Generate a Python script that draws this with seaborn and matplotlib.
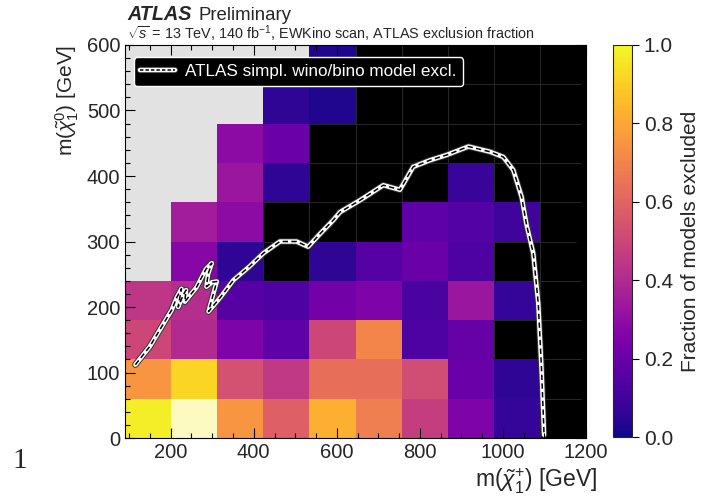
import numpy as np
import matplotlib
matplotlib.use("Agg")
import matplotlib.pyplot as plt
import seaborn as sns
from matplotlib.colors import ListedColormap, Normalize
from matplotlib.ticker import MultipleLocator
from matplotlib.lines import Line2D
from matplotlib.cm import ScalarMappable

# ---------------- data ----------------
chargino_edges = [90, 201, 312, 423, 534, 645, 756, 867, 978, 1089, 1200]
neutralino_edges = [0, 60, 120, 180, 240, 300, 360, 420, 480, 540, 600]
nan = np.nan
# fraction of models excluded, rows from m(chi0)=0-60 up to 540-600; nan = no exclusion (black)
frac_r0 = [0.97, 1.00, 0.75, 0.58, 0.82, 0.68, 0.47, 0.25, 0.07, nan]
frac_r1 = [0.75, 0.91, 0.53, 0.45, 0.63, 0.63, 0.52, 0.20, 0.06, nan]
frac_r2 = [0.50, 0.40, 0.25, 0.17, 0.50, 0.70, 0.13, 0.19, nan, nan]
frac_r3 = [0.44, 0.41, 0.15, 0.13, 0.22, 0.25, 0.12, 0.33, 0.07, nan]
frac_r4 = [nan, 0.27, 0.06, nan, 0.06, 0.15, 0.20, 0.13, nan, nan]
frac_r5 = [nan, 0.35, 0.29, nan, nan, nan, 0.17, 0.14, 0.09, nan]
frac_r6 = [nan, nan, 0.33, 0.06, nan, nan, nan, 0.08, nan, nan]
frac_r7 = [nan, nan, 0.29, 0.20, nan, nan, nan, nan, nan, nan]
frac_r8 = [nan, nan, nan, 0.06, 0.03, nan, nan, nan, nan, nan]
frac_r9 = [nan, nan, nan, nan, 0.03, nan, nan, nan, nan, nan]
# number of cells (from the left) in each row with no models (grey)
no_model_cols = [0, 0, 0, 0, 1, 1, 2, 2, 3, 4]

# ATLAS simplified wino/bino exclusion contour
contour_x = [115, 150, 202, 215, 226, 218, 230, 237, 234, 262, 285, 299, 290, 286,
             300, 311, 291, 320, 351, 390, 423, 463, 503, 531, 560, 592, 608, 656,
             712, 752, 784, 824, 864, 917, 969, 1001, 1025, 1045, 1057, 1073, 1085,
             1093, 1099]
contour_y = [112, 140, 195, 215, 228, 200, 218, 226, 208, 230, 258, 267, 250, 231,
             238, 239, 193, 215, 241, 262, 282, 300, 300, 292, 312, 333, 345, 363,
             386, 379, 414, 424, 432, 445, 437, 429, 409, 368, 325, 282, 206,
             104, 5]

# ---------------- figure ----------------
sns.set_style("ticks")
plt.rcParams["font.family"] = ["Liberation Sans", "DejaVu Sans"]
plt.rcParams["mathtext.fontset"] = "custom"
plt.rcParams["mathtext.rm"] = "Liberation Sans"
plt.rcParams["mathtext.it"] = "Liberation Sans:italic"
plt.rcParams["mathtext.bf"] = "Liberation Sans:bold"

fig = plt.figure(figsize=(7.11, 5.01), dpi=100)
ax = fig.add_axes([0.1758, 0.1257, 0.6484, 0.7845])
cax = fig.add_axes([0.8622, 0.1277, 0.0267, 0.7825])
ax.set_axisbelow(False)

frac = np.array([frac_r0, frac_r1, frac_r2, frac_r3, frac_r4,
                 frac_r5, frac_r6, frac_r7, frac_r8, frac_r9], dtype=float)
grey = np.zeros_like(frac)
for i, n in enumerate(no_model_cols):
    grey[i, :n] = 1
grey = np.where(grey == 1, 1.0, np.nan)
allcells = np.ones_like(frac)

X, Y = np.meshgrid(chargino_edges, neutralino_edges)
# black background grid (cells without exclusion), faint cell edges
ax.pcolormesh(X, Y, allcells, cmap=ListedColormap(["black"]),
              edgecolors="#262626", linewidth=0.6, shading="flat", zorder=0.5)
cmap = plt.get_cmap("plasma").with_extremes(over="#fcfac0")
ax.pcolormesh(X, Y, np.ma.masked_invalid(frac), cmap=cmap,
              norm=Normalize(0, 0.995), shading="flat", zorder=0.6)
ax.pcolormesh(X, Y, np.ma.masked_invalid(grey), cmap=ListedColormap(["#e2e2e2"]),
              shading="flat", zorder=0.7)

# contour line: dark edge, white body, black dashes
sns.lineplot(x=contour_x, y=contour_y, sort=False, estimator=None, ax=ax,
             color="#333333", lw=4.6, solid_capstyle="round", solid_joinstyle="round")
sns.lineplot(x=contour_x, y=contour_y, sort=False, estimator=None, ax=ax,
             color="white", lw=3.2, solid_capstyle="round", solid_joinstyle="round")
sns.lineplot(x=contour_x, y=contour_y, sort=False, estimator=None, ax=ax,
             color="black", lw=1.1, dashes=(3.5, 2.2))

ax.set_xlim(90, 1200)
ax.set_ylim(0, 600)
ax.xaxis.set_major_locator(MultipleLocator(200))
ax.xaxis.set_minor_locator(MultipleLocator(50))
ax.yaxis.set_major_locator(MultipleLocator(100))
ax.yaxis.set_minor_locator(MultipleLocator(20))
ax.tick_params(which="both", direction="in", top=True, right=True, bottom=True,
               left=True, labelsize=14.5, color="black")
ax.tick_params(which="major", length=7, width=0.8)
ax.tick_params(which="minor", length=3.5, width=0.8)
for s in ax.spines.values():
    s.set_linewidth(0.8)
    s.set_color("black")
    s.set_zorder(5)

ax.set_xlabel(r"m($\tilde{\chi}_1^{+}$) [GeV]", fontsize=16.5, labelpad=1)
ax.xaxis.set_label_coords(1.025, -0.072)
ax.xaxis.label.set_horizontalalignment("right")
ax.set_ylabel(r"m($\tilde{\chi}_1^{0}$) [GeV]", fontsize=15, loc="top", labelpad=4)

handle = (Line2D([], [], color="#333333", lw=4.6),
          Line2D([], [], color="white", lw=3.2),
          Line2D([], [], color="black", lw=1.1, dashes=(2.2, 1.4)))
leg = ax.legend([handle], ["ATLAS simpl. wino/bino model excl."], loc="upper left",
                bbox_to_anchor=(0.0, 0.99), fontsize=12.3, frameon=True,
                facecolor="black", edgecolor="white", framealpha=1,
                handlelength=2.0, borderpad=0.4, handletextpad=0.6)
leg.get_frame().set_linewidth(1.0)
for t in leg.get_texts():
    t.set_color("white")

cb = fig.colorbar(ScalarMappable(norm=Normalize(0, 1), cmap="plasma"), cax=cax)
cb.set_ticks([0.0, 0.2, 0.4, 0.6, 0.8, 1.0])
cb.ax.tick_params(labelsize=15, length=5, width=0.8, direction="out", color="black")
cb.outline.set_linewidth(0.8)
cb.set_label("Fraction of models excluded", fontsize=15, labelpad=6)

fig.text(0.179, 0.96, "ATLAS", fontsize=14.2, fontweight="bold", fontstyle="italic")
fig.text(0.2795, 0.96, "Preliminary", fontsize=13.4)
fig.text(0.179, 0.922, r"$\sqrt{s}$ = 13 TeV, 140 fb$^{-1}$, EWKino scan, ATLAS exclusion fraction",
         fontsize=10.4)
fig.text(0.017, 0.065, "1", fontsize=21, family=["Liberation Serif", "DejaVu Serif"])

fig.savefig("out.png", dpi=100)
